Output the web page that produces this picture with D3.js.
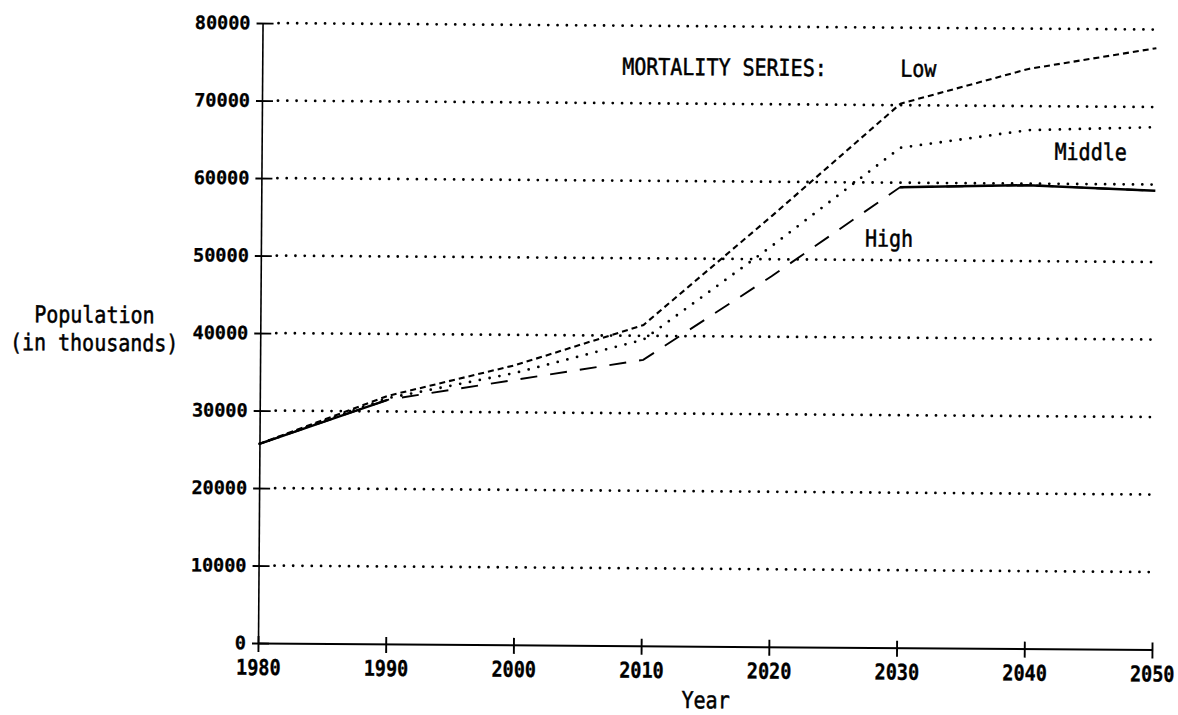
<!DOCTYPE html>
<html>
<head>
<meta charset="utf-8">
<script src="https://cdn.jsdelivr.net/npm/d3@7"></script>
<style>
  html, body { margin: 0; padding: 0; background: #fff; }
  svg { display: block; }
</style>
</head>
<body>
<svg id="chart" width="1178" height="715"></svg>
<script>
// Projected population (thousands) by mortality assumption
const years = [1980, 1990, 2000, 2010, 2020, 2030, 2040, 2050];
const lowSeries    = [25700, 32000, 36100, 41400, 55600, 70200, 74800, 77600];
const middleSeries = [25700, 31700, 35100, 39500, 51700, 64500, 66900, 67400];
const highSeries   = [25700, 31500, 34200, 36900, 47800, 59400, 59800, 59200];
const yTicks = [0, 10000, 20000, 30000, 40000, 50000, 60000, 70000, 80000];
const xTicks = years;

const MONO = "'DejaVu Sans Mono', monospace";

const svg = d3.select("#chart");
svg.append("rect").attr("width", 1178).attr("height", 715).attr("fill", "#fff");

// whole plot sits a hair off-level, as on the printed sheet
const g = svg.append("g").attr("transform", "rotate(0.42, 258, 643)");

const x = d3.scaleLinear().domain([1980, 2050]).range([258, 1152]);
const y = d3.scaleLinear().domain([0, 80000]).range([643, 23]);

// dotted reference lines at each labelled level
g.append("g")
  .selectAll("line")
  .data(yTicks.filter(d => d > 0))
  .join("line")
  .attr("x1", 274).attr("x2", 1153)
  .attr("y1", d => y(d)).attr("y2", d => y(d))
  .attr("stroke", "#000")
  .attr("stroke-width", 2.8)
  .attr("stroke-linecap", "round")
  .attr("stroke-dasharray", "0,9.3");

// y axis
const yAxis = g.append("g")
  .attr("transform", `translate(${x(1980)},0)`)
  .call(d3.axisLeft(y).tickValues(yTicks).tickFormat(d3.format("d"))
        .tickSize(6).tickPadding(6).tickSizeOuter(0));
yAxis.select(".domain").attr("stroke", "#000").attr("stroke-width", 1.6);
yAxis.selectAll(".tick line").attr("x1", 11).attr("x2", -6)
  .attr("stroke", "#000").attr("stroke-width", 1.9);
yAxis.selectAll(".tick text")
  .attr("font-family", MONO).attr("font-size", 18.5).attr("font-weight", "bold")
  .attr("fill", "#000").attr("stroke", "#000").attr("stroke-width", 0.3);

// x axis
const xAxis = g.append("g")
  .attr("transform", `translate(0,${y(0)})`)
  .call(d3.axisBottom(x).tickValues(xTicks).tickFormat(d3.format("d"))
        .tickSize(9).tickSizeOuter(0));
xAxis.select(".domain").attr("stroke", "#000").attr("stroke-width", 2);
xAxis.selectAll(".tick line").attr("y1", -7).attr("y2", 9)
  .attr("stroke", "#000").attr("stroke-width", 1.9);
xAxis.selectAll(".tick text")
  .attr("font-family", MONO).attr("font-size", 18.5).attr("font-weight", "bold")
  .attr("fill", "#000").attr("stroke", "#000").attr("stroke-width", 0.3)
  .attr("y", 0).attr("dy", 0)
  .attr("transform", "translate(0,32) scale(1,1.18)");

// series lines
const line = d3.line().x(d => x(d[0])).y(d => y(d[1]));
const pts = vals => years.map((yr, i) => [yr, vals[i]]);

const lines = g.append("g").attr("fill", "none").attr("stroke", "#000");

lines.append("path")
  .attr("d", line(pts(highSeries)))
  .attr("stroke-width", 1.9)
  .attr("stroke-dasharray", "17,13");

// the high series prints solid where it runs alone or merges with the others
lines.append("path")
  .attr("d", line(pts(highSeries).filter(d => d[0] <= 1990)))
  .attr("stroke-width", 2.3);
lines.append("path")
  .attr("d", line(pts(highSeries).filter(d => d[0] >= 2030)))
  .attr("stroke-width", 2.5);

lines.append("path")
  .attr("d", line(pts(middleSeries)))
  .attr("stroke-width", 2.8)
  .attr("stroke-linecap", "round")
  .attr("stroke-dasharray", "0,10");

lines.append("path")
  .attr("d", line(pts(lowSeries)))
  .attr("stroke-width", 2.1)
  .attr("stroke-dasharray", "6,4");

// text labels
function label(txt, px, py, anchor) {
  g.append("text")
    .attr("transform", `translate(${px},${py}) scale(1,1.16)`)
    .attr("font-family", MONO)
    .attr("font-size", 20)
    .attr("text-anchor", anchor || "start")
    .attr("fill", "#000")
    .attr("stroke", "#000")
    .attr("stroke-width", 0.45)
    .text(txt);
}
label("MORTALITY SERIES:", 618, 72);
label("Low", 896, 72);
label("Middle", 1051, 154);
label("High", 862, 242);
label("Population", 92, 324, "middle");
label("(in thousands)", 92, 352, "middle");
label("Year", 682, 705);
</script>
</body>
</html>
